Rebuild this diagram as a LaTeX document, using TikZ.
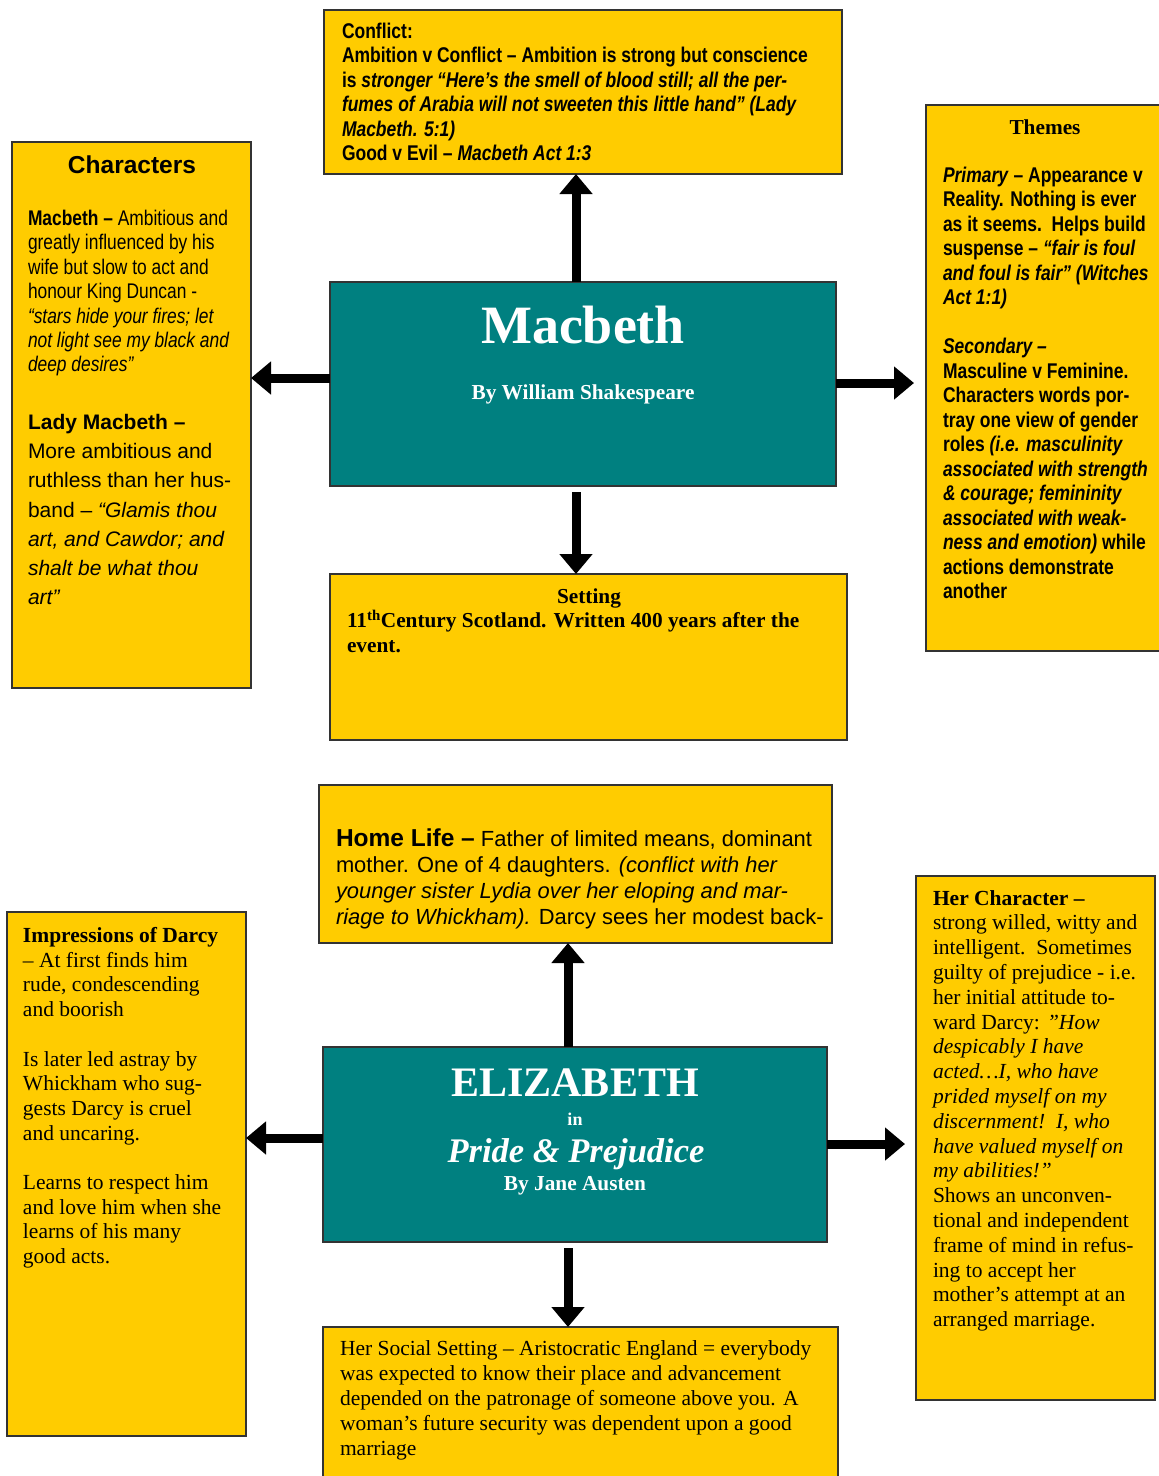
\documentclass[tikz,border=0pt]{standalone}
\usepackage{fontspec}
\setmainfont{Liberation Serif}
\newfontfamily\arial{Liberation Sans}
\newfontfamily\narrow[FakeStretch=0.82]{Liberation Sans}
\usetikzlibrary{arrows.meta}
\definecolor{boxyellow}{HTML}{FFCC00}
\definecolor{titleteal}{HTML}{008080}
\definecolor{edge}{HTML}{333333}
% invisible strut of exactly one em: the first baseline then sits 1em below a text block's top
\newcommand\firstline{\rule{0pt}{1em}}

\begin{document}
\begin{tikzpicture}[x=1pt,y=-1pt,
  panel/.style={draw=edge, line width=1.4pt, fill=boxyellow, inner sep=0pt, outer sep=0pt, anchor=north west},
  titlepanel/.style={panel, fill=titleteal},
  bigarrow/.style={line width=9pt, -{Triangle[width=32pt,length=20pt]}},
  txt/.style={inner sep=0pt, outer sep=0pt, align=left, anchor=north west},
  ctxt/.style={inner sep=0pt, outer sep=0pt, align=center, anchor=base},
  sansbody/.style={font=\arial\fontsize{21}{29.2}\selectfont},
  narrowbody/.style={font=\narrow\fontsize{21.2}{24.4}\selectfont},
  narrowbold/.style={font=\narrow\bfseries\fontsize{21.3}{24.5}\selectfont},
  serifbody/.style={font=\fontsize{21.5}{24.8}\selectfont},
  titletext/.style={ctxt, text=white}
]
\useasboundingbox (0,0) rectangle (1159,1476);
\clip (0,0) rectangle (1159,1476);
\fill[white] (0,0) rectangle (1159,1476);

% ---------- Macbeth map ----------
\node[panel, minimum width=518pt, minimum height=164pt] (conflict) at (324,10) {};
\node[panel, minimum width=239pt, minimum height=546pt] (characters) at (12,142) {};
\node[panel, minimum width=240pt, minimum height=546pt] (themes) at (926,105) {};
\node[titlepanel, minimum width=506pt, minimum height=204pt] (macbeth) at (330,282) {};
\node[panel, minimum width=517pt, minimum height=166pt] (setting) at (330,574) {};

\node[txt, narrowbold] (conflicttext) at (342,17) {\firstline Conflict:\\
Ambition v Conflict – Ambition is strong but conscience\\
is \textit{stronger “Here’s the smell of blood still; all the per-}\\
\textit{fumes of Arabia will not sweeten this little hand” (Lady}\\
\textit{Macbeth. 5:1)}\\
Good v Evil – \textit{Macbeth Act 1:3}};

\node[ctxt, font=\arial\bfseries\fontsize{24.5}{29}\selectfont] (charhead) at (132,173) {Characters};
\node[txt, narrowbody] (macbethchar) at (28,204.3) {\firstline\textbf{Macbeth –} Ambitious and\\
greatly influenced by his\\
wife but slow to act and\\
honour King Duncan -\\
\textit{“stars hide your fires; let}\\
\textit{not light see my black and}\\
\textit{deep desires”}};
\node[txt, sansbody] (ladychar) at (28,408.5) {\firstline\textbf{Lady Macbeth –}\\
More ambitious and\\
ruthless than her hus-\\
band – \textit{“Glamis thou}\\
\textit{art, and Cawdor; and}\\
\textit{shalt be what thou}\\
\textit{art”}};

\node[ctxt, font=\bfseries\fontsize{21.3}{24.4}\selectfont] (themehead) at (1045,134) {Themes};
\node[txt, narrowbold] (themetext) at (943,160.8) {\firstline\textit{Primary} – Appearance v\\
Reality. Nothing is ever\\
as it seems.\ \ Helps build\\
suspense – \textit{“fair is foul}\\
\textit{and foul is fair” (Witches}\\
\textit{Act 1:1)}\\[24.5pt]
\textit{Secondary –}\\
Masculine v Feminine.\\
Characters words por-\\
tray one view of gender\\
roles \textit{(i.e. masculinity}\\
\textit{associated with strength}\\
\textit{\& courage; femininity}\\
\textit{associated with weak-}\\
\textit{ness and emotion)} while\\
actions demonstrate\\
another};

\node[titletext, font=\bfseries\fontsize{54}{60}\selectfont] (mtitle) at (583,343) {Macbeth};
\node[titletext, font=\bfseries\fontsize{21.3}{24}\selectfont] (mauthor) at (583,399) {By William Shakespeare};

\node[ctxt, font=\bfseries\fontsize{21.3}{24.5}\selectfont] (sethead) at (589,603) {Setting};
\node[txt, font=\bfseries\fontsize{21.3}{24.5}\selectfont] (settext) at (347,606.5) {\firstline 11\textsuperscript{th}Century Scotland. Written 400 years after the\\
event.};

\coordinate (mcol) at (576,0);
\coordinate (mleft) at (0,378);
\coordinate (mright) at (0,383);
\draw[bigarrow] (macbeth.north -| mcol) -- (conflict.south -| mcol);
\draw[bigarrow] (macbeth.west |- mleft) -- (characters.east |- mleft);
\draw[bigarrow, shorten >=12pt] (macbeth.east |- mright) -- (themes.west |- mright);
\draw[bigarrow, shorten <=6pt] (macbeth.south -| mcol) -- (setting.north -| mcol);

% ---------- Pride & Prejudice map ----------
\node[panel, minimum width=513pt, minimum height=158pt] (homelife) at (319,785) {};
\node[panel, minimum width=239pt, minimum height=524pt] (impressions) at (7,912) {};
\node[panel, minimum width=239pt, minimum height=524pt] (hercharacter) at (916,876) {};
\node[titlepanel, minimum width=504pt, minimum height=195pt] (elizabeth) at (323,1047) {};
\node[panel, minimum width=515pt, minimum height=170pt] (social) at (323,1327) {};

\node[txt, font=\arial\fontsize{21.9}{25.7}\selectfont] (hometext) at (336,825) {\firstline{\fontsize{24.5}{25.7}\selectfont\bfseries Home Life –} Father of limited means, dominant\\
mother. One of 4 daughters. \textit{(conflict with her}\\
\textit{younger sister Lydia over her eloping and mar-}\\
\textit{riage to Whickham).} Darcy sees her modest back-};

\node[titletext, font=\bfseries\fontsize{42}{48}\selectfont] (etitle) at (575,1096) {ELIZABETH};
\node[titletext, font=\bfseries\fontsize{18}{20}\selectfont] (ein) at (575,1125) {in};
\node[titletext, font=\bfseries\itshape\fontsize{34.5}{40}\selectfont] (ebook) at (576,1162.5) {Pride \& Prejudice};
\node[titletext, font=\bfseries\fontsize{21.3}{24}\selectfont] (eauthor) at (575,1190) {By Jane Austen};

\node[txt, font=\fontsize{21.5}{24.7}\selectfont] (imptext) at (23,921) {\firstline\textbf{Impressions of Darcy}\\
– At first finds him\\
rude, condescending\\
and boorish\\[24.7pt]
Is later led astray by\\
Whickham who sug-\\
gests Darcy is cruel\\
and uncaring.\\[24.7pt]
Learns to respect him\\
and love him when she\\
learns of his many\\
good acts.};

\node[txt, serifbody] (chartext) at (933,883.5) {\firstline\textbf{Her Character –}\\
strong willed, witty and\\
intelligent.\ \ Sometimes\\
guilty of prejudice - i.e.\\
her initial attitude to-\\
ward Darcy: \textit{"How}\\
\textit{despicably I have}\\
\textit{acted…I, who have}\\
\textit{prided myself on my}\\
\textit{discernment!\ \ I, who}\\
\textit{have valued myself on}\\
\textit{my abilities!”}\\
Shows an unconven-\\
tional and independent\\
frame of mind in refus-\\
ing to accept her\\
mother’s attempt at an\\
arranged marriage.};

\node[txt, font=\fontsize{21.5}{25}\selectfont] (socialtext) at (340,1333.5) {\firstline Her Social Setting – Aristocratic England = everybody\\
was expected to know their place and advancement\\
depended on the patronage of someone above you. A\\
woman’s future security was dependent upon a good\\
marriage};

\coordinate (ecol) at (568,0);
\coordinate (eleft) at (0,1138);
\coordinate (eright) at (0,1144);
\draw[bigarrow] (elizabeth.north -| ecol) -- (homelife.south -| ecol);
\draw[bigarrow] (elizabeth.west |- eleft) -- (impressions.east |- eleft);
\draw[bigarrow, shorten >=11pt] (elizabeth.east |- eright) -- (hercharacter.west |- eright);
\draw[bigarrow, shorten <=6pt] (elizabeth.south -| ecol) -- (social.north -| ecol);
\end{tikzpicture}
\end{document}
